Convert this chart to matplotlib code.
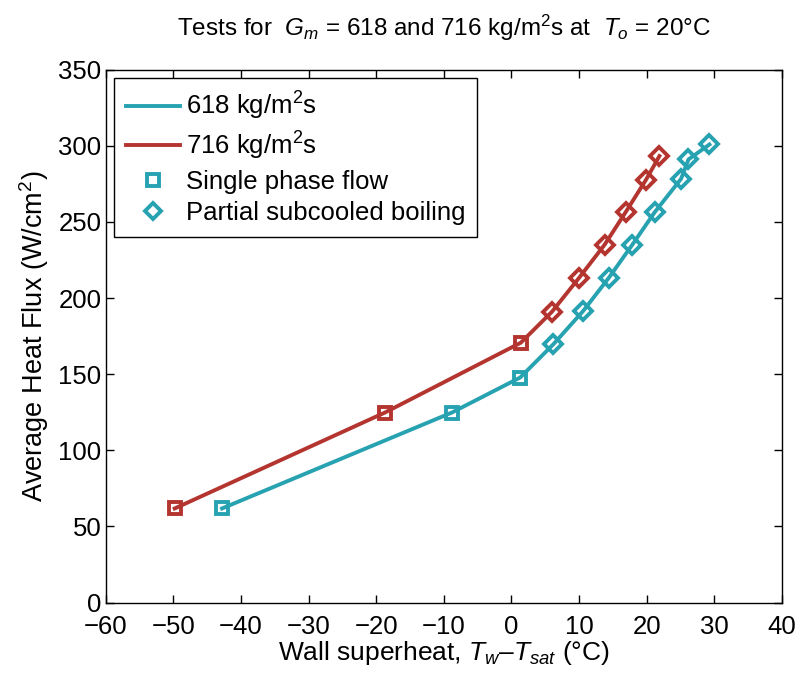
import matplotlib
matplotlib.use("Agg")
import matplotlib.pyplot as plt
from matplotlib.lines import Line2D

plt.rcParams['font.family'] = ['Liberation Sans', 'DejaVu Sans']
plt.rcParams['mathtext.fontset'] = 'custom'
plt.rcParams['mathtext.rm'] = 'Liberation Sans'
plt.rcParams['mathtext.it'] = 'Liberation Sans:italic'

# data
x618 = [-42.8, -8.8, 1.3, 6.2, 10.6, 14.4, 17.9, 21.2, 25.1, 26.2, 29.3]
y618 = [61.8, 124.8, 147.8, 169.6, 191.4, 213.2, 235.1, 256.4, 278.3, 291.1, 300.9]
x716 = [-49.8, -18.7, 1.4, 6.0, 10.0, 13.8, 16.9, 19.9, 21.9]
y716 = [61.8, 124.8, 170.7, 191.0, 213.2, 235.1, 256.4, 277.6, 293.3]
n_single = 3  # first points are single phase flow

cyan = '#27a2b1'
red = '#b4352f'

fig = plt.figure(figsize=(8.01, 6.77), dpi=100)
ax = fig.add_axes([0.132, 0.110, 0.844, 0.787])

for xs, ys, c in [(x618, y618, cyan), (x716, y716, red)]:
    ax.plot(xs, ys, color=c, lw=2.8, zorder=2)
    ax.plot(xs[:n_single], ys[:n_single], ls='none', marker='s', ms=9,
            mfc='none', mec=c, mew=2.8, zorder=3)
    ax.plot(xs[n_single:], ys[n_single:], ls='none', marker='D', ms=9,
            mfc='none', mec=c, mew=2.8, zorder=3)

ax.set_xlim(-60, 40)
ax.set_ylim(0, 350)
ax.set_xticks(range(-60, 41, 10))
ax.set_yticks(range(0, 351, 50))
ax.set_xticklabels(['\u2212' + str(-v) if v < 0 else str(v) for v in range(-60, 41, 10)])
ax.tick_params(direction='in', top=True, right=True, labelsize=18.5, length=6, width=1)
ax.tick_params(axis='x', pad=9)
ax.tick_params(axis='y', pad=3)
for s in ax.spines.values():
    s.set_linewidth(1)

ax.set_xlabel(r'Wall superheat, $T_w$–$T_{sat}$ (°C)', fontsize=19, labelpad=0)
ax.set_ylabel(r'Average Heat Flux (W/cm$^2$)', fontsize=19.5, labelpad=5)
ax.set_title(r'Tests for  $G_m$ = 618 and 716 kg/m$^2$s at  $T_o$ = 20°C', fontsize=17.5, pad=24)

handles = [
    Line2D([], [], color=cyan, lw=2.8),
    Line2D([], [], color=red, lw=2.8),
    Line2D([], [], ls='none', marker='s', ms=8, mfc='none', mec=cyan, mew=2.8),
    Line2D([], [], ls='none', marker='D', ms=8, mfc='none', mec=cyan, mew=2.8),
]
labels = [r'618 kg/m$^2$s', r'716 kg/m$^2$s', 'Single phase flow', 'Partial subcooled boiling']
leg = ax.legend(handles, labels, loc='upper left', fontsize=18.5, fancybox=False,
                edgecolor='black', framealpha=1, borderaxespad=0.33,
                handlelength=2.1, handletextpad=0.25, labelspacing=0.3, borderpad=0.45)
leg.get_frame().set_linewidth(1)

fig.savefig('out.png', dpi=100)
